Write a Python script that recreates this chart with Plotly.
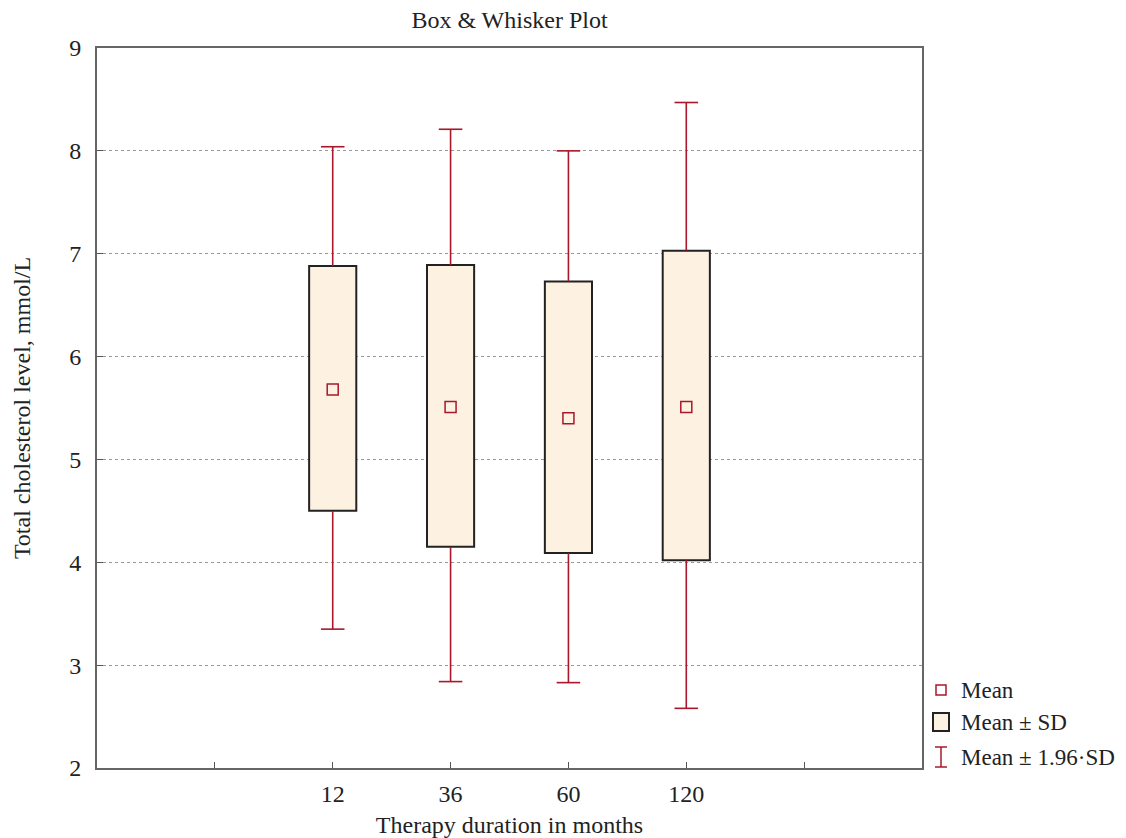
import plotly.graph_objects as go

categories = ["12", "36", "60", "120"]
means = [5.68, 5.51, 5.40, 5.51]
sd_low = [4.50, 4.15, 4.09, 4.02]
sd_high = [6.88, 6.89, 6.73, 7.03]
w_low = [3.35, 2.84, 2.83, 2.58]
w_high = [8.04, 8.21, 8.00, 8.47]
y_ticks = [2, 3, 4, 5, 6, 7, 8, 9]

RED = "#a8182a"
FONT = "Liberation Serif"
xpos = [i + 2 for i in range(len(categories))]
cap = 0.1

W, H = 1118, 830
ML, MR, MT, MB = 89, 204, 40, 70

fig = go.Figure()

# boxes (mean ± SD)
fig.add_trace(go.Bar(
    x=xpos, y=[h - l for h, l in zip(sd_high, sd_low)], base=sd_low,
    width=0.4, marker=dict(color="#fdf1e2", line=dict(color="#222222", width=2)),
    showlegend=False, hoverinfo="skip"))

# whiskers
wx, wy = [], []
for x, lo, hi, bl, bh in zip(xpos, w_low, w_high, sd_low, sd_high):
    wx += [x, x, None, x - cap, x + cap, None, x, x, None, x - cap, x + cap, None]
    wy += [bh, hi, None, hi, hi, None, bl, lo, None, lo, lo, None]
fig.add_trace(go.Scatter(x=wx, y=wy, mode="lines", line=dict(color=RED, width=1.6),
                         showlegend=False, hoverinfo="skip"))

# means
fig.add_trace(go.Scatter(x=xpos, y=means, mode="markers",
                         marker=dict(symbol="square-open", size=11, color=RED, line=dict(width=1.5)),
                         showlegend=False))

# custom legend
pw = W - ML - MR
ph = H - MT - MB
lx = 1 + (941 - 8 - (ML + pw)) / pw
items = [((768 - 690) / ph, "Mean"),
         ((768 - 722) / ph, "Mean ± SD"),
         ((768 - 757) / ph, "Mean ± 1.96·SD")]
dx = 1 / pw
dy = 1 / ph
shapes = []
shapes.append(dict(type="rect", xref="paper", yref="paper", x0=lx - 5 * dx, x1=lx + 5 * dx,
                   y0=items[0][0] - 5 * dy, y1=items[0][0] + 5 * dy,
                   line=dict(color=RED, width=1.5), fillcolor="white"))
shapes.append(dict(type="rect", xref="paper", yref="paper", x0=lx - 8 * dx, x1=lx + 8 * dx,
                   y0=items[1][0] - 9 * dy, y1=items[1][0] + 9 * dy,
                   line=dict(color="#222222", width=2), fillcolor="#fdf1e2"))
yc = items[2][0]
for (x0, x1, y0, y1) in [(lx, lx, yc - 10 * dy, yc + 10 * dy),
                         (lx - 6 * dx, lx + 6 * dx, yc + 10 * dy, yc + 10 * dy),
                         (lx - 6 * dx, lx + 6 * dx, yc - 10 * dy, yc - 10 * dy)]:
    shapes.append(dict(type="line", xref="paper", yref="paper", x0=x0, x1=x1, y0=y0, y1=y1,
                       line=dict(color=RED, width=1.5)))
annotations = []
for y, t in items:
    annotations.append(dict(text=t, xref="paper", yref="paper", x=lx + 18 * dx, y=y,
                            xanchor="left", yanchor="middle", showarrow=False,
                            font=dict(family=FONT, size=23, color="#222222")))

fig.update_layout(
    width=W, height=H,
    margin=dict(l=ML, r=MR, t=MT, b=MB, autoexpand=False),
    paper_bgcolor="white", plot_bgcolor="white",
    font=dict(family=FONT, size=24, color="#222222"),
    title=dict(text="Box & Whisker Plot", x=(ML + pw / 2) / W, xanchor="center",
               y=1 - 12 / H, yanchor="middle", font=dict(family=FONT, size=24, color="#222222")),
    shapes=shapes, annotations=annotations,
    xaxis=dict(range=[0, 7], tickmode="array", tickvals=[1, 2, 3, 4, 5, 6],
               ticktext=[""] + categories + [""], ticks="inside", ticklen=6, tickcolor="#555",
               showgrid=False, zeroline=False, showline=True, linecolor="#666", linewidth=2,
               mirror=True, ticklabelstandoff=3, automargin=False,
               tickfont=dict(family=FONT, size=24),
               title=dict(text="Therapy duration in months", standoff=14,
                          font=dict(family=FONT, size=24))),
    yaxis=dict(range=[2, 9], tickmode="array", tickvals=y_ticks, ticks="inside", ticklen=6,
               tickcolor="#555", showgrid=True, gridcolor="#999", griddash="dot", gridwidth=1,
               zeroline=False, showline=True, linecolor="#666", linewidth=2, mirror=True,
               ticklabelstandoff=9, automargin=False,
               tickfont=dict(family=FONT, size=24),
               title=dict(text="Total cholesterol level, mmol/L", standoff=32,
                          font=dict(family=FONT, size=24))),
)

fig.write_html("out.html")
